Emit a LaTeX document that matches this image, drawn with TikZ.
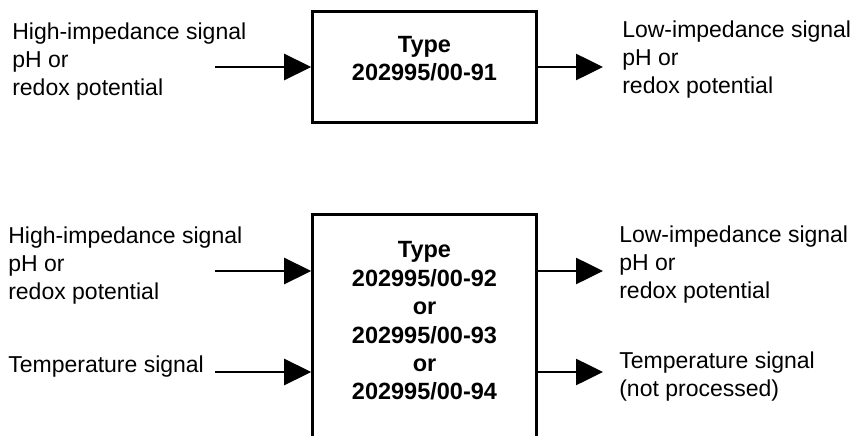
\documentclass[tikz,border=0pt]{standalone}
\usepackage{fontspec}
\setmainfont{Liberation Sans}
\usetikzlibrary{arrows.meta,positioning}

\begin{document}
\begin{tikzpicture}[x=1pt,y=-1pt,>={Triangle[length=27pt,width=26pt]},line width=2.6pt,
every node/.style={font=\fontsize{23}{28}\selectfont,inner sep=0pt},
unit/.style={draw,minimum width=224pt},
typetext/.style={font=\fontsize{23.5}{28.4}\selectfont\bfseries,align=center},
sig/.style={align=left,anchor=west}]
\useasboundingbox (0,0) rectangle (851,436);

% upper unit
\node[unit,minimum height=111pt] (A) at (424.5,67) {};
\node[typetext] (Atxt) at (424.5,58.5) {Type\\202995/00-91};
\node[sig] (Ain)  at (11,62)  {High-impedance signal\\pH or\\redox potential};
\node[sig] (Aout) at (621,60) {Low-impedance signal\\pH or\\redox potential};
\coordinate (a1) at (215,67);
\coordinate (a2) at (603,67);
\draw[->] (a1) -- (A);
\draw[->] (A) -- (a2);

% lower unit, open at the bottom
\node[unit,minimum height=260pt,anchor=north] (B) at (424.5,213) {};
\node[typetext] (Btxt) at (424.5,321) {Type\\202995/00-92\\or\\202995/00-93\\or\\202995/00-94};
\node[sig] (Bin)   at (7,266)   {High-impedance signal\\pH or\\redox potential};
\node[sig] (Btin)  at (7,367)   {Temperature signal};
\node[sig] (Bout)  at (618,265) {Low-impedance signal\\pH or\\redox potential};
\node[sig] (Btout) at (618,377) {Temperature signal\\(not processed)};
\coordinate (b1) at (215,271);
\coordinate (b2) at (215,372);
\coordinate (b3) at (603,271);
\coordinate (b4) at (603,372);
\draw[->] (b1) -- (b1 -| B.west);
\draw[->] (b2) -- (b2 -| B.west);
\draw[->] (B.east |- b3) -- (b3);
\draw[->] (B.east |- b4) -- (b4);

\end{tikzpicture}
\end{document}
